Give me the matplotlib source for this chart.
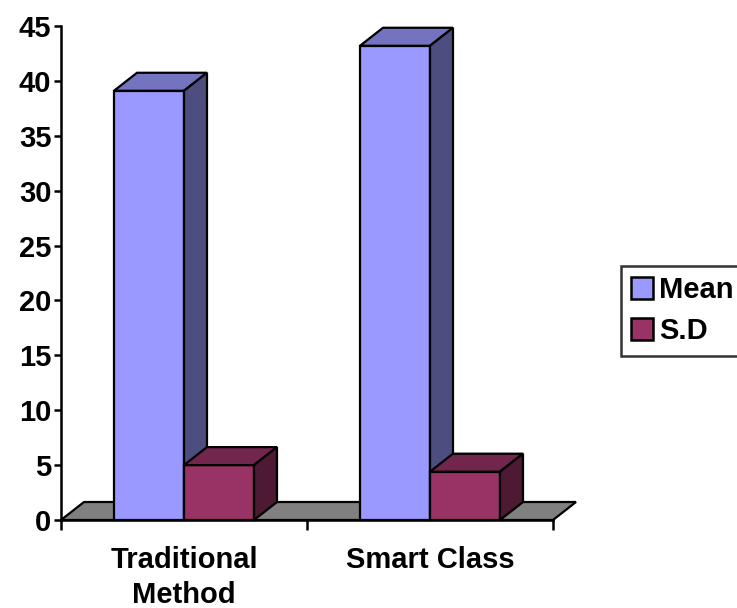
import matplotlib
matplotlib.use("Agg")
import matplotlib.pyplot as plt
from matplotlib.patches import Polygon, Patch

categories = ["Traditional\nMethod", "Smart Class"]
series_names = ["Mean", "S.D"]
mean_vals = [39.1, 43.2]
sd_vals = [5.0, 4.4]
y_ticks = [0, 5, 10, 15, 20, 25, 30, 35, 40, 45]

# front, top, side shades for each series
shades = {
    "Mean": ("#9999FF", "#7373BF", "#4D4D80"),
    "S.D": ("#993366", "#73264D", "#4D1933"),
}

plt.rcParams['font.family'] = ['Liberation Sans', 'DejaVu Sans']
plt.rcParams['font.weight'] = 'bold'

fig = plt.figure(figsize=(7.37, 6.08), dpi=100)
ax = fig.add_axes([61/737, 88/608, 492/737, 494/608])
ax.set_xlim(-0.5, len(categories) - 0.5)
ax.set_ylim(0, 45)

# depth of the 3d effect, given in pixels and turned into data units
depth_px = (23, 18)
ax_w = 492
ax_h = 494
dx = depth_px[0] / ax_w * (len(categories))
dy = depth_px[1] / ax_h * 45
bar_w = 70 / ax_w * len(categories)


def box(x0, x1, h, cols):
    front, top, side = cols
    kw = dict(edgecolor='black', linewidth=1.6, joinstyle='miter', clip_on=False)
    ax.add_patch(Polygon([(x0, 0), (x1, 0), (x1, h), (x0, h)], closed=True, facecolor=front, **kw))
    ax.add_patch(Polygon([(x0, h), (x1, h), (x1 + dx, h + dy), (x0 + dx, h + dy)], closed=True, facecolor=top, **kw))
    ax.add_patch(Polygon([(x1, 0), (x1 + dx, dy), (x1 + dx, h + dy), (x1, h)], closed=True, facecolor=side, **kw))


# floor
x_lo, x_hi = ax.get_xlim()
ax.add_patch(Polygon([(x_lo, 0), (x_hi, 0), (x_hi + dx, dy), (x_lo + dx, dy)], closed=True,
                     facecolor='#808080', edgecolor='black', linewidth=1.6, clip_on=False))

for i in range(len(categories)):
    box(i - bar_w, i, mean_vals[i], shades["Mean"])
    box(i, i + bar_w, sd_vals[i], shades["S.D"])

for s in ['top', 'right']:
    ax.spines[s].set_visible(False)
for s in ['left', 'bottom']:
    ax.spines[s].set_linewidth(1.8)

ax.set_yticks(y_ticks)
ax.tick_params(axis='y', length=5, width=1.8, labelsize=21, pad=2)
ax.set_xticks(range(len(categories)))
ax.set_xticklabels(categories, fontsize=21, linespacing=1.3)
ax.tick_params(axis='x', which='major', length=0, pad=19)
ax.set_xticks([x_lo, 0.5, x_hi], minor=True)
ax.tick_params(axis='x', which='minor', length=7, width=1.8)

handles = [Patch(facecolor=shades[n][0], edgecolor='black', linewidth=1.8) for n in series_names]
leg = fig.legend(handles, series_names, loc='upper left', bbox_to_anchor=(621/737, 342/608),
                 fontsize=21, frameon=True, fancybox=False, edgecolor='black',
                 handlelength=0.75, handleheight=0.75, handletextpad=0.2, borderpad=0.35,
                 labelspacing=0.45, borderaxespad=0)
leg.get_frame().set_linewidth(1.8)

fig.savefig("out.png", dpi=100)
